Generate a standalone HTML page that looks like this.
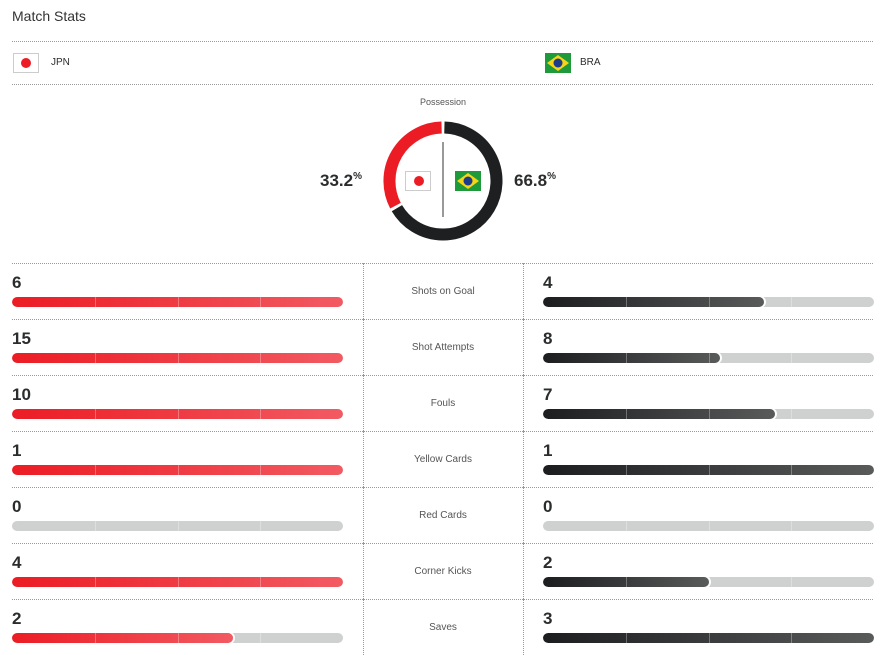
<!DOCTYPE html>
<html><head><style>
*{margin:0;padding:0;box-sizing:border-box}
body{width:884px;height:651px;background:#fff;font-family:"Liberation Sans",Arial,sans-serif;color:#2b2c2d;position:relative;overflow:hidden}
.a{position:absolute}
.hl{position:absolute;height:0;border-top:1px dotted #9a9a9a}
.vl{position:absolute;width:0;border-left:1px dotted #9a9a9a}
.num{position:absolute;font-size:17px;font-weight:bold;color:#2b2c2d}
.lab{position:absolute;left:363px;width:160px;text-align:center;font-size:10px;color:#555}
.bar{position:absolute;height:10px;border-radius:5px;background:#cfd0d0;overflow:hidden;width:331px}
.fill{position:absolute;left:0;top:0;height:10px;border-radius:5px}
.r{background:linear-gradient(90deg,#ec1c24,#f25a62)}
.k{background:linear-gradient(90deg,#1c1d1f,#595a5a)}
.fill.part{box-shadow:1px 0 0 1px #fff}
.sep{position:absolute;top:0;width:1px;height:10px;background:rgba(255,255,255,.3)}
.flag{position:absolute;width:26px;height:20px}
</style></head><body>
<div class="a" style="left:12px;top:8px;font-size:14px;color:#333">Match Stats</div>
<div class="hl" style="left:12px;top:41px;width:861px"></div>
<div class="hl" style="left:12px;top:84px;width:861px"></div>
<div class="flag" style="left:13px;top:53px;background:#fff;border:1px solid #ccc"><div style="position:absolute;left:7px;top:4px;width:10px;height:10px;border-radius:50%;background:#ec1c24"></div></div>
<div class="a" style="left:51px;top:57px;font-size:10px">JPN</div>
<svg class="flag" style="left:545px;top:53px" viewBox="0 0 26 20"><rect width="26" height="20" fill="#1e9a3a"/><polygon points="13,2 24,10 13,18 2,10" fill="#f7d417"/><circle cx="13" cy="10" r="4.5" fill="#1b3c8a"/></svg>
<div class="a" style="left:580px;top:57px;font-size:10px">BRA</div>
<div class="a" style="left:363px;top:97px;width:160px;text-align:center;font-size:9px;color:#555">Possession</div>
<svg class="a" style="left:380px;top:118px" width="126" height="126" viewBox="0 0 126 126">
<path d="M64.4 9.52 A53.5 53.5 0 1 1 16.9 90.15" fill="none" stroke="#1e1f21" stroke-width="12"/>
<path d="M15.5 87.7 A53.5 53.5 0 0 1 61.6 9.52" fill="none" stroke="#ec1c24" stroke-width="12"/>
<line x1="63" y1="24" x2="63" y2="99" stroke="#333" stroke-width="1"/>
</svg>
<div class="flag" style="left:405px;top:171px;background:#fff;border:1px solid #ccc"><div style="position:absolute;left:8px;top:4px;width:10px;height:10px;border-radius:50%;background:#ec1c24"></div></div>
<svg class="flag" style="left:455px;top:171px" viewBox="0 0 26 20"><rect width="26" height="20" fill="#1e9a3a"/><polygon points="13,2 24,10 13,18 2,10" fill="#f7d417"/><circle cx="13" cy="10" r="4.5" fill="#1b3c8a"/></svg>
<div class="a" style="left:320px;top:171px;font-size:17px;font-weight:bold">33.2<span style="font-size:10px;vertical-align:top">%</span></div>
<div class="a" style="left:514px;top:171px;font-size:17px;font-weight:bold">66.8<span style="font-size:10px;vertical-align:top">%</span></div>
<div id="rows"></div>
<script>
var d=[["Shots on Goal",6,4],["Shot Attempts",15,8],["Fouls",10,7],["Yellow Cards",1,1],["Red Cards",0,0],["Corner Kicks",4,2],["Saves",2,3]];
var h='';
function bar(x,y,v,m,c){var w=m?v/m*331:0;var s='<div class="bar" style="left:'+x+'px;top:'+y+'px">';
if(w>0)s+='<div class="fill '+c+(w<331?' part':'')+'" style="width:'+w+'px"></div>';
for(var i=1;i<4;i++)s+='<div class="sep" style="left:'+(i*82.75)+'px"></div>';return s+'</div>';}
d.forEach(function(r,i){var t=263+56*i,m=Math.max(r[1],r[2]);
h+='<div class="hl" style="left:12px;top:'+t+'px;width:861px"></div>';
h+='<div class="vl" style="left:363px;top:'+t+'px;height:56px"></div><div class="vl" style="left:523px;top:'+t+'px;height:56px"></div>';
h+='<div class="num" style="left:12px;top:'+(t+10)+'px">'+r[1]+'</div><div class="num" style="left:543px;top:'+(t+10)+'px">'+r[2]+'</div>';
h+='<div class="lab" style="top:'+(t+23)+'px">'+r[0]+'</div>';
h+=bar(12,t+34,r[1],m,'r')+bar(543,t+34,r[2],m,'k');});
document.getElementById('rows').innerHTML=h;
</script>
</body></html>
